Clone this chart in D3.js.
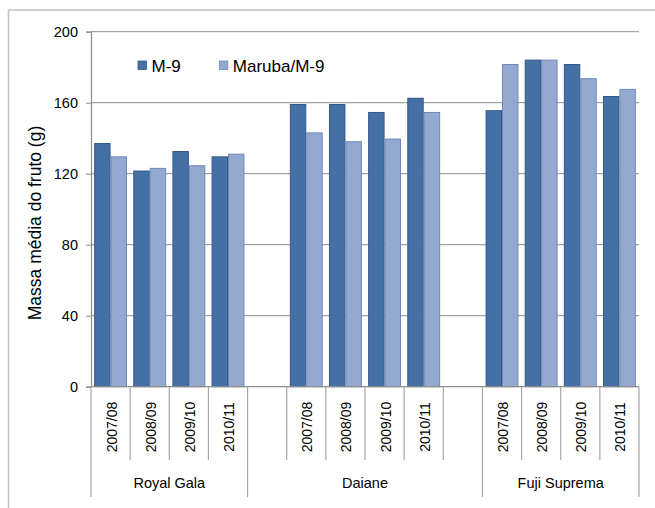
<!DOCTYPE html>
<html><head><meta charset="utf-8">
<script src="https://cdn.jsdelivr.net/npm/d3@7"></script>
<style>body{margin:0;background:#fff}svg{display:block;font-family:"Liberation Sans",Arial,sans-serif}</style>
</head><body><svg id="c" width="655" height="508"></svg>
<script>
const groups = ["Royal Gala", "Daiane", "Fuji Suprema"];
const seasons = ["2007/08", "2008/09", "2009/10", "2010/11"];
const seriesNames = ["M-9", "Maruba/M-9"];
const m9 = [137, 121.5, 132.5, 129.5, 159, 159, 154.5, 162.5, 155.5, 184, 181.5, 163.5];
const maruba = [129.5, 123, 124.5, 131, 143, 138, 139.5, 154.5, 181.5, 184, 173.5, 167.5];
const yTicks = [0, 40, 80, 120, 160, 200];
const colors = ["#4570A5", "#94A9D0"];
const strokes = ["#34598A", "#6F89B8"];

const slots = [];
groups.forEach((g, gi) => {
  if (gi === 1) slots.push({id: g + "-b1", group: g, blank: true});
  seasons.forEach((s, si) => slots.push({id: g + "-" + s, group: g, season: s, idx: gi * 4 + si}));
  if (gi === 1) slots.push({id: g + "-b2", group: g, blank: true});
});

const svg = d3.select("#c");
const L = 91, R = 639, T = 31.7, B = 386.7;
const x = d3.scaleBand().domain(slots.map(d => d.id)).range([L, R]).padding(0);
const y = d3.scaleLinear().domain([0, 200]).range([B, T]);
const bw = x.bandwidth();
const pad = bw * 0.08;
const x1 = d3.scaleBand().domain(seriesNames).range([pad, bw - pad]).padding(0);

svg.append("line").attr("x1", 8.5).attr("x2", 655).attr("y1", 10).attr("y2", 10).attr("stroke", "#BFBFBF").attr("stroke-width", 1.5);
svg.append("line").attr("x1", 8.5).attr("x2", 8.5).attr("y1", 10).attr("y2", 508).attr("stroke", "#BFBFBF").attr("stroke-width", 1.5);

svg.append("g").selectAll("line").data(yTicks.filter(t => t > 0)).join("line")
  .attr("x1", L).attr("x2", R).attr("y1", d => y(d)).attr("y2", d => y(d))
  .attr("stroke", "#8C8C8C").attr("stroke-width", 1);

const ya = svg.append("g").attr("transform", `translate(${L},0)`)
  .call(d3.axisLeft(y).tickValues(yTicks).tickSize(5).tickPadding(8));
ya.select(".domain").attr("stroke", "#8C8C8C").attr("stroke-width", 1.2);
ya.selectAll(".tick line").attr("stroke", "#8C8C8C");
ya.selectAll("text").attr("font-size", 14.5).attr("fill", "#000").attr("font-family", "Liberation Sans, Arial, sans-serif");

const data = slots.filter(d => !d.blank);
const gBars = svg.append("g");
data.forEach(d => {
  const vals = [m9[d.idx], maruba[d.idx]];
  vals.forEach((v, si) => {
    gBars.append("rect")
      .attr("x", x(d.id) + x1(seriesNames[si]) + 0.5)
      .attr("y", y(v))
      .attr("width", x1.bandwidth() - 1)
      .attr("height", B - y(v))
      .attr("fill", colors[si]).attr("stroke", strokes[si]).attr("stroke-width", 1);
  });
});

svg.append("line").attr("x1", L).attr("x2", R).attr("y1", B).attr("y2", B).attr("stroke", "#8C8C8C").attr("stroke-width", 1.2);

const bounds = slots.map(d => x(d.id)).concat([R]);
const groupEdges = new Set();
groups.forEach(g => { groupEdges.add(x(slots.filter(s => s.group === g)[0].id)); });
groupEdges.add(R);
svg.append("g").selectAll("line").data(bounds).join("line")
  .attr("x1", d => d).attr("x2", d => d).attr("y1", B)
  .attr("y2", d => groupEdges.has(d) ? 497 : 460)
  .attr("stroke", "#A6A6A6").attr("stroke-width", 1.2);

svg.append("g").selectAll("text").data(data).join("text")
  .attr("transform", d => `translate(${x(d.id) + bw / 2 + 6},427) rotate(-90)`)
  .attr("text-anchor", "middle").attr("font-size", 14).attr("fill", "#000")
  .text(d => d.season);

svg.append("g").selectAll("text").data(groups).join("text")
  .attr("x", g => {
    const s = slots.filter(d => d.group === g);
    return (x(s[0].id) + x(s[s.length - 1].id) + bw) / 2;
  })
  .attr("y", 488).attr("text-anchor", "middle").attr("font-size", 14.5).attr("fill", "#000")
  .text(g => g);

svg.append("text").attr("transform", `translate(41,223) rotate(-90)`)
  .attr("text-anchor", "middle").attr("font-size", 17.5).attr("fill", "#000")
  .text("Massa média do fruto (g)");

const legX = [138, 219.3];
seriesNames.forEach((n, i) => {
  svg.append("rect").attr("x", legX[i]).attr("y", 61).attr("width", 8.5).attr("height", 8.5)
    .attr("fill", colors[i]).attr("stroke", strokes[i]).attr("stroke-width", 0.8);
  svg.append("text").attr("x", legX[i] + 13.5).attr("y", 71.7).attr("font-size", 17).attr("fill", "#000").text(n);
});
</script></body></html>
